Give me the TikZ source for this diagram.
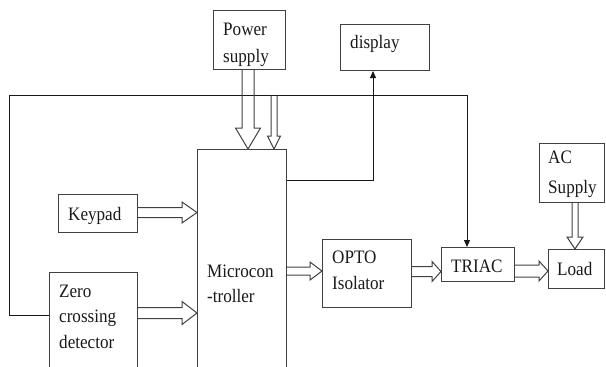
\documentclass[tikz,border=0pt]{standalone}
\usepackage{fontspec}
\setmainfont{Liberation Serif}[FakeStretch=0.9]
\usetikzlibrary{arrows.meta,calc}
\tikzset{
  box/.style={draw=black!75, line width=1pt, rectangle, inner sep=0pt, anchor=north west},
  fatar/.style={draw=black!75, line width=1pt, line join=miter},
  thin/.style={draw=black!90, line width=0.9pt},
  tip/.style={-{Triangle[length=7pt,width=6pt]}},
  lbl/.style={anchor=north west, inner sep=0pt, align=left, text=black!90,
    font=\fontsize{19}{26}\selectfont},
}
\newcommand{\fatdown}[6]{\draw[fatar] let \p1=(#1 |- #2), \p2=(#1 |- #3) in
  (\x1-#4,\y1) -- (\x1-#4,\y2+#6) -- (\x1-#5,\y2+#6) -- (\x1,\y2) -- (\x1+#5,\y2+#6) -- (\x1+#4,\y2+#6) -- (\x1+#4,\y1);}
\newcommand{\fatright}[6]{\draw[fatar] let \p1=(#2 |- 0,#1), \p2=(#3 |- 0,#1) in
  (\x1,\y1+#4) -- (\x2-#6,\y1+#4) -- (\x2-#6,\y1+#5) -- (\x2,\y1) -- (\x2-#6,\y1-#5) -- (\x2-#6,\y1-#4) -- (\x1,\y1-#4);}
\begin{document}
\begin{tikzpicture}[x=1pt,y=-1pt]
\useasboundingbox (0,0) rectangle (606,367);
\clip (0,0) rectangle (606,367);
% boxes
\node[box, minimum width=72pt, minimum height=59pt] (ps) at (213,10) {};
\node[box, minimum width=89pt, minimum height=46pt] (disp) at (340,24) {};
\node[box, minimum width=89pt, minimum height=231pt] (mc) at (197,149) {};
\node[box, minimum width=79pt, minimum height=38pt] (kp) at (58,194) {};
\node[box, minimum width=88pt, minimum height=108pt] (zc) at (49,272) {};
\node[box, minimum width=89pt, minimum height=68pt] (opto) at (322,239) {};
\node[box, minimum width=73pt, minimum height=34pt] (tr) at (441,247) {};
\node[box, minimum width=65pt, minimum height=59pt] (ac) at (539,143) {};
\node[box, minimum width=56pt, minimum height=39pt] (ld) at (548,249) {};
% labels (y = first baseline - 18.2)
\node[lbl] (tps) at (223,16.8) {\strut Power\\[1pt]supply};
\node[lbl] (tdisp) at (350,29.8) {\strut display};
\node[lbl] (tmc) at (207,258.8) {\strut Microcon\\[-1pt]-troller};
\node[lbl] (tkp) at (68,201.8) {\strut Keypad};
\node[lbl] (tzc) at (59,278.8) {\strut Zero\\[-0.5pt]crossing\\[-0.5pt]detector};
\node[lbl] (topto) at (332,244.8) {\strut OPTO\\Isolator};
\node[lbl] (ttr) at (451,253.8) {\strut TRIAC};
\node[lbl] (tac) at (548,144.8) {\strut AC\\[4pt]Supply};
\node[lbl] (tld) at (557,256.8) {\strut Load};
% feedback line
\coordinate (fbL) at (9,95.5);
\coordinate (fbR) at (467,95.5);
\draw[thin, tip] (zc.west |- 0,315) -| (fbL) -- (fbR) -- (467,0 |- tr.north);
% display line
\draw[thin, tip] (mc.east |- 0,180) -| (373,0 |- disp.south);
% fat arrows
\fatdown{248,0}{ps.south}{mc.north}{6}{12.5}{21}
\fatdown{274,0}{fbL}{mc.north}{3}{6.5}{13}
\fatdown{575,0}{ac.south}{ld.north}{3}{8}{12}
\fatright{212.5}{kp.east}{mc.west}{5}{10.5}{15}
\fatright{313}{zc.east}{mc.west}{5.5}{11.5}{15}
\fatright{271}{mc.east}{opto.west}{4}{9}{12}
\fatright{271.5}{opto.east}{tr.west}{5}{10}{9}
\fatright{271}{tr.east}{ld.west}{6}{10}{9}
\end{tikzpicture}
\end{document}
